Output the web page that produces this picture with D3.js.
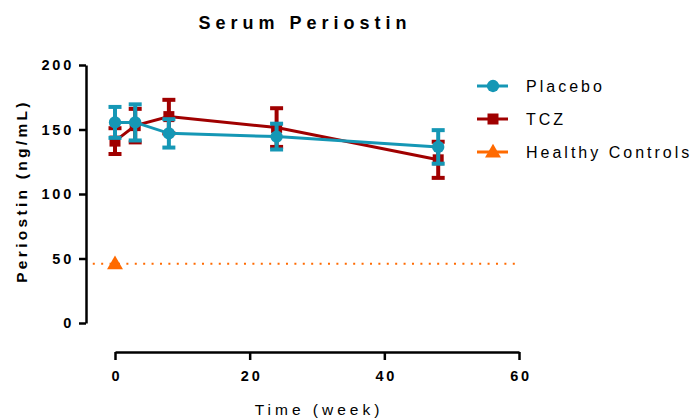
<!DOCTYPE html>
<html>
<head>
<meta charset="utf-8">
<script src="https://cdn.jsdelivr.net/npm/d3@7"></script>
<style>
  body { margin: 0; background: #fff; }
  svg { font-family: Arial, "Liberation Sans", sans-serif; }
  .axis path, .axis line { stroke: #000; stroke-width: 2.5px; }
  .axis text { font-size: 14.5px; font-weight: bold; letter-spacing: 2.8px; fill: #000; }
</style>
</head>
<body>
<div id="chart"></div>
<script>
// data
var weeks = [0, 3, 8, 24, 48];
var placeboMean = [155.5, 155.5, 147, 144.5, 136.5];
var placeboErr = [12, 14, 11, 10, 13];
var tczMean = [141, 153, 160, 151.5, 126.5];
var tczErr = [10, 13, 13, 15, 14];
var healthyMean = [46];
var healthyWeek = [0];
var xTicks = [0, 20, 40, 60];
var yTicks = [0, 50, 100, 150, 200];
var seriesNames = ["Placebo", "TCZ", "Healthy Controls"];

var colors = { placebo: "#1597b5", tcz: "#a00000", healthy: "#ff6a00" };

var width = 696, height = 419;

var svg = d3.select("#chart").append("svg")
  .attr("width", width)
  .attr("height", height);

var x = d3.scaleLinear().domain([0, 60]).range([115, 519]);
var y = d3.scaleLinear().domain([0, 200]).range([323, 65]);

// y axis
svg.append("g")
  .attr("class", "y axis")
  .attr("transform", "translate(86,0)")
  .call(d3.axisLeft(y).tickValues(yTicks).tickSize(7).tickSizeOuter(0).tickPadding(8))
  .selectAll("text").attr("dx", "3px");

// x axis (offset, Prism style)
svg.append("g")
  .attr("class", "x axis")
  .attr("transform", "translate(0,352)")
  .call(d3.axisBottom(x).tickValues(xTicks).tickSize(8).tickSizeOuter(0).tickPadding(11))
  .selectAll("text").attr("dx", "1.5px");

// healthy controls dotted mean line
svg.append("line")
  .attr("x1", x(-3.3)).attr("x2", x(60))
  .attr("y1", y(healthyMean[0])).attr("y2", y(healthyMean[0]))
  .attr("stroke", colors.healthy)
  .attr("stroke-width", 2)
  .attr("stroke-dasharray", "2,6.4");

var tri = d3.symbol().type(d3.symbolTriangle).size(110);
svg.selectAll(".hc")
  .data(healthyMean)
  .enter().append("path")
  .attr("class", "hc")
  .attr("d", tri)
  .attr("fill", colors.healthy)
  .attr("transform", function(d, i) { return "translate(" + x(healthyWeek[i]) + "," + (y(d) + 1) + ")"; });

var drawSeries = function(means, errs, color, marker) {
  var data = weeks.map(function(w, i) { return { w: w, m: means[i], e: errs[i] }; });
  var g = svg.append("g");

  g.append("path")
    .datum(data)
    .attr("fill", "none")
    .attr("stroke", color)
    .attr("stroke-width", 3)
    .attr("d", d3.line().x(function(d) { return x(d.w); }).y(function(d) { return y(d.m); }));

  var eb = g.selectAll(".eb").data(data).enter().append("g");
  eb.append("line")
    .attr("x1", function(d) { return x(d.w); })
    .attr("x2", function(d) { return x(d.w); })
    .attr("y1", function(d) { return y(d.m + d.e); })
    .attr("y2", function(d) { return y(d.m - d.e); })
    .attr("stroke", color).attr("stroke-width", 4);
  [1, -1].forEach(function(s) {
    eb.append("line")
      .attr("x1", function(d) { return x(d.w) - 6.5; })
      .attr("x2", function(d) { return x(d.w) + 6.5; })
      .attr("y1", function(d) { return y(d.m + s * d.e); })
      .attr("y2", function(d) { return y(d.m + s * d.e); })
      .attr("stroke", color).attr("stroke-width", 4);
  });

  g.selectAll(".mk").data(data).enter().append("path")
    .attr("d", marker)
    .attr("fill", color)
    .attr("transform", function(d) { return "translate(" + x(d.w) + "," + y(d.m) + ")"; });
};

drawSeries(tczMean, tczErr, colors.tcz, d3.symbol().type(d3.symbolSquare).size(121));
drawSeries(placeboMean, placeboErr, colors.placebo, d3.symbol().type(d3.symbolCircle).size(120));

// legend
var legendColors = [colors.placebo, colors.tcz, colors.healthy];
var legendMarkers = [
  d3.symbol().type(d3.symbolCircle).size(120),
  d3.symbol().type(d3.symbolSquare).size(121),
  d3.symbol().type(d3.symbolTriangle).size(110)
];
var legend = svg.selectAll(".legend")
  .data(seriesNames)
  .enter().append("g")
  .attr("transform", function(d, i) { return "translate(0," + (86 + i * 33) + ")"; });

legend.append("line")
  .attr("x1", 477).attr("x2", 508)
  .attr("stroke", function(d, i) { return legendColors[i]; })
  .attr("stroke-width", 3);
legend.append("path")
  .attr("d", function(d, i) { return legendMarkers[i](); })
  .attr("fill", function(d, i) { return legendColors[i]; })
  .attr("transform", function(d, i) { return "translate(493," + (i == 2 ? 1 : 0) + ")"; });
legend.append("text")
  .attr("x", 526)
  .attr("dy", "0.36em")
  .style("font-size", "16px")
  .style("letter-spacing", "3px")
  .text(function(d) { return d; });

// chart title
svg.append("text")
  .style("font-size", "18px")
  .style("font-weight", "bold")
  .style("letter-spacing", "5px")
  .style("text-anchor", "middle")
  .attr("x", 305)
  .attr("y", 29)
  .text("Serum Periostin");

// x axis label
svg.append("text")
  .style("font-size", "15.5px")
  .style("letter-spacing", "4px")
  .style("text-anchor", "middle")
  .attr("x", 319)
  .attr("y", 415)
  .text("Time (week)");

// y axis label
svg.append("text")
  .style("font-size", "15.5px")
  .style("font-weight", "bold")
  .style("letter-spacing", "3.3px")
  .style("text-anchor", "middle")
  .attr("transform", "rotate(-90)")
  .attr("x", -191)
  .attr("y", 27)
  .text("Periostin (ng/mL)");
</script>
</body>
</html>
